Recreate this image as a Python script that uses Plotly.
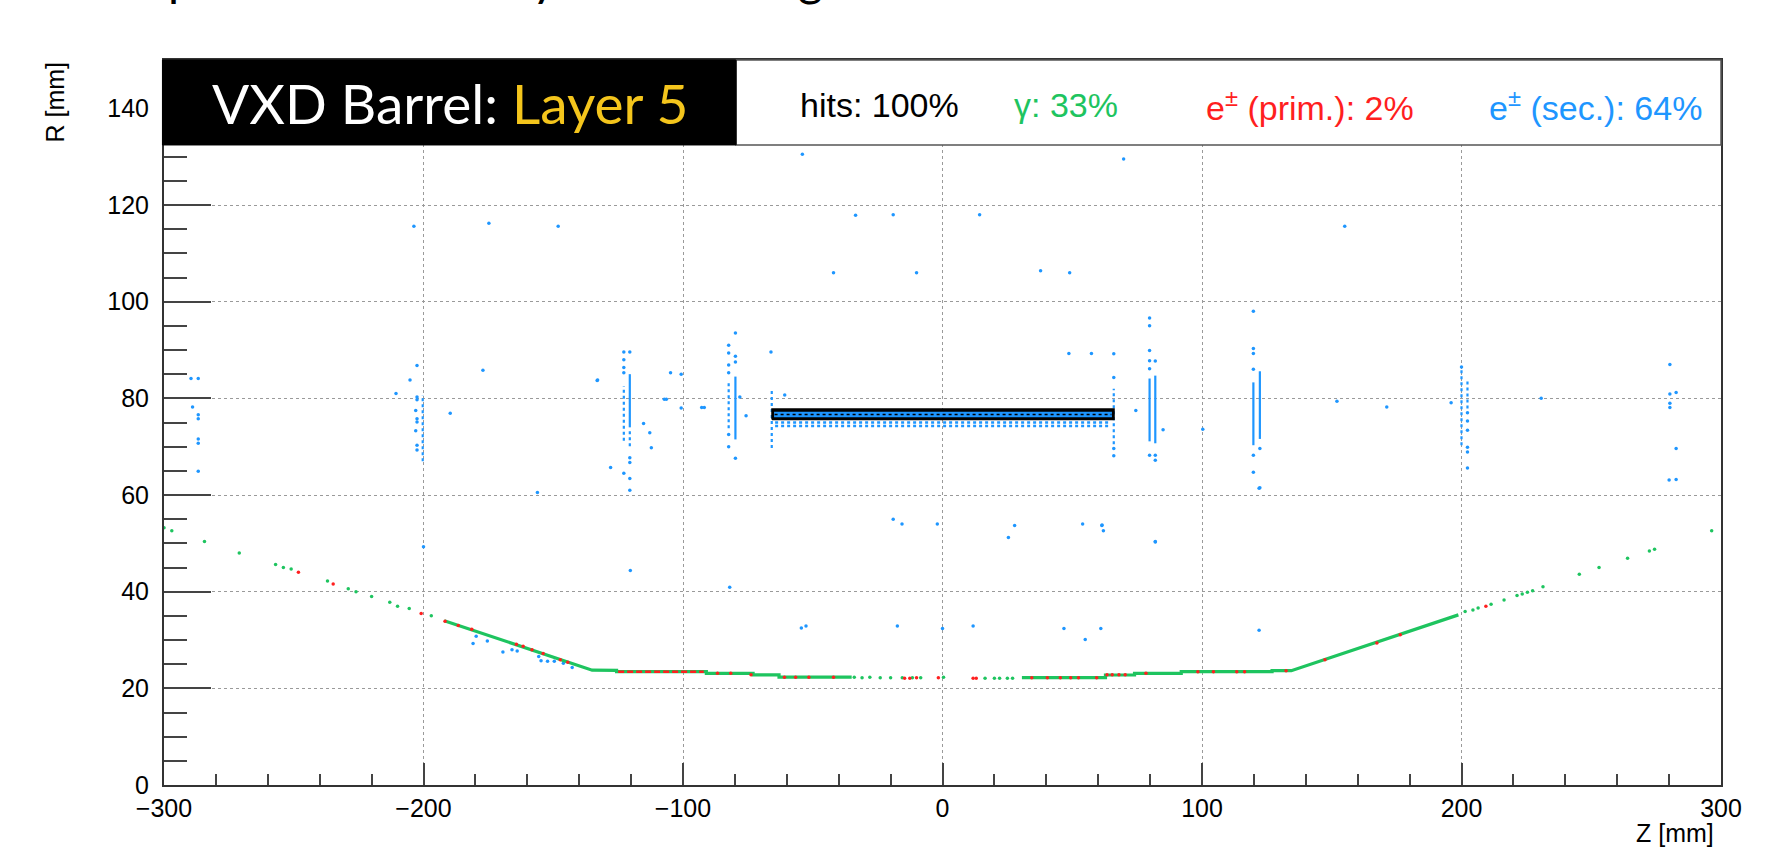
import plotly.graph_objects as go

# ---------------- data ----------------
# all-hits band on the layer-5 sensor (z extent, R extent)
sensor_z = [-65.7, 66.1]
sensor_r_outer = [75.6, 77.8]
sensor_r_inner = [76.1, 77.2]
sensor_low_rows = [75.0, 74.3]          # blue rows just under the sensor
sensor_low_z = [-64.5, 64.5]

# dense vertical streaks of secondary e± vertices: z, R_low, R_high
solid_streak_z = [-120.5, -79.8, 79.8, 82.0, 119.8, 122.3]
solid_streak_lo = [74.0, 71.5, 71.1, 70.7, 70.3, 71.6]
solid_streak_hi = [85.0, 84.5, 84.1, 84.7, 83.3, 85.6]
dotted_streak_z = [-200.3, -122.8, -120.5, -82.4, -65.8, 66.0, 200.0, 202.3]
dotted_streak_lo = [67.0, 71.2, 70.1, 73.8, 69.7, 70.5, 70.3, 77.9]
dotted_streak_hi = [80.7, 82.5, 73.2, 83.1, 81.7, 82.0, 86.0, 84.0]

# isolated secondary e± vertices
sec_z = [-289.6, -286.8, -289.0, -286.8, -286.8, -286.8, -286.8, -286.8,
         -202.5, -205.2, -210.6, -202.5, -202.5, -203.0, -202.5, -202.5, -203.0, -202.5, -202.5,
         -203.7, -174.8, -148.1, -177.1, -189.7, -156.1, -133.1, -127.9, -122.8,
         -122.8, -122.8, -122.8, -122.8, -120.5, -120.5, -120.5, -120.5, -120.5,
         -115.2, -112.8, -112.2, -107.2, -104.8, -100.7, -100.7, -92.8,
         -82.4, -82.4, -82.4, -82.4, -82.4, -82.4, -79.8, -79.8, -79.8, -79.8,
         -78.1, -75.7, -91.8, -106.4, -132.9, -66.1, -60.8,
         -179.7, -180.9, -175.4, -169.4, -165.9, -163.9, -155.6, -154.7, -152.2, -149.6, -146.1, -142.7,
         -200.0, -120.3, -82.0, -54.4,
         -54.0, -33.5, -19.0, 14.3, -42.0, -10.0, 37.8, 49.0, 57.4, 48.7,
         -19.0, -15.6, -2.0, 25.4, 27.8, 54.0, 61.4, 62.0, 82.0,
         -52.6, -17.4, 0.0, 11.8, 46.8, 55.0, 61.0, 122.0, 122.0, 280.0,
         66.0, 66.0, 66.0, 66.0, 79.8, 79.8, 79.8, 79.8, 79.8, 79.8, 82.0, 82.0, 82.0, 82.0,
         85.0, 74.5, 119.8, 119.8, 119.8, 119.8, 119.8, 119.8, 122.3, 122.3,
         200.0, 202.3, 202.3, 202.3, 202.3, 202.3, 202.3,
         280.3, 280.3, 280.3, 280.3, 282.7, 282.7, 282.7,
         69.8, 155.0, 152.0, 171.2, 196.0, 230.7, 100.3, 61.5]
sec_r = [84.1, 84.1, 78.2, 76.6, 75.8, 71.6, 70.7, 64.9,
         86.8, 83.8, 81.0, 80.3, 79.7, 77.5, 75.8, 75.1, 73.3, 70.3, 69.3,
         115.6, 116.2, 115.6, 85.8, 76.9, 60.5, 83.7, 65.7, 64.5,
         89.6, 88.0, 86.4, 85.3, 89.6, 67.7, 66.7, 63.4, 61.0,
         74.8, 72.9, 69.8, 79.8, 85.3, 85.0, 78.0, 78.1,
         91.0, 89.4, 86.9, 85.3, 72.5, 70.0, 93.5, 88.7, 87.5, 67.6,
         80.3, 76.4, 78.1, 79.8, 83.8, 89.6, 80.7,
         30.8, 29.3, 29.8, 27.5, 28.0, 27.7, 26.6, 25.7, 25.6, 25.6, 25.2, 24.3,
         49.3, 44.4, 40.9, 32.5,
         130.5, 117.9, 118.0, 118.0, 106.0, 106.0, 106.4, 106.0, 89.3, 89.3,
         55.0, 54.0, 54.0, 51.2, 53.7, 54.0, 53.7, 52.6, 50.3,
         32.9, 32.9, 32.4, 32.9, 32.4, 30.1, 32.4, 32.0, 61.4, 63.1,
         89.2, 84.3, 69.6, 68.1, 96.6, 95.0, 89.9, 87.8, 86.1, 68.2, 87.7, 68.2, 67.2, 50.4,
         73.5, 77.5, 98.0, 90.3, 89.3, 86.0, 68.2, 64.7, 69.6, 61.5,
         86.5, 77.0, 75.3, 73.4, 69.9, 68.9, 65.6,
         87.0, 80.9, 79.0, 78.1, 81.2, 69.6, 63.2,
         129.5, 115.6, 79.4, 78.2, 79.1, 80.0, 73.6, 53.8]

# photon conversion vertices along the beam pipe (dense parts as a profile)
pipe_left_z = [-192.0, -135.0, -125.6, -125.6, -91.0, -91.0, -73.0, -73.0, -63.0, -63.0, -35.0]
pipe_left_r = [34.0, 23.75, 23.7, 23.45, 23.45, 23.1, 23.1, 22.8, 22.8, 22.3, 22.3]
pipe_right_z = [30.6, 62.8, 62.8, 74.0, 74.0, 92.0, 92.0, 127.0, 127.0, 134.4, 198.8]
pipe_right_r = [22.2, 22.2, 22.76, 22.76, 23.1, 23.1, 23.45, 23.45, 23.65, 23.65, 35.2]
gamma_z = [-300.0, -297.0, -284.4, -271.0, -257.0, -254.0, -251.0, -237.0, -229.0, -226.0,
           -220.0, -213.0, -210.0, -205.5, -197.0,
           -34.0, -31.0, -28.0, -24.0, -20.0, -15.5, -11.6, -8.4, 0.4,
           16.4, 20.0, 22.0, 25.0, 27.0,
           201.4, 204.4, 206.4, 211.4, 216.4, 221.4, 223.4, 225.4, 227.4, 231.4,
           245.4, 253.0, 264.0, 272.4, 274.4, 296.4]
gamma_r = [53.2, 52.6, 50.4, 48.0, 45.6, 45.0, 44.7, 42.2, 40.6, 40.0,
           39.0, 37.8, 37.0, 36.5, 35.0,
           22.3, 22.2, 22.3, 22.2, 22.2, 22.2, 22.2, 22.2, 22.3,
           22.1, 22.1, 22.1, 22.1, 22.1,
           35.9, 36.2, 36.6, 37.4, 38.3, 39.2, 39.5, 39.9, 40.2, 41.0,
           43.6, 45.0, 46.9, 48.4, 48.8, 52.6]

# primary e± vertices
prim_seg_z = [-125.0, -92.0]
prim_seg_r = [23.45, 23.45]
prim_z = [-248.2, -234.8, -200.9, -191.7, -186.6, -181.4, -164.2, -161.6, -158.2, -153.9, -147.3, -144.4,
          -86.7, -81.6, -73.8, -60.9, -56.6, -51.5, -42.0,
          -14.6, -12.6, -10.0, -1.6, 11.8, 13.0, 34.4, 40.4, 45.4, 49.4, 52.4, 59.4,
          63.4, 65.4, 68.0, 70.4, 78.4, 98.4, 104.4, 113.4, 116.4, 132.4, 147.4, 167.4, 176.4, 209.4]
prim_r = [44.0, 41.6, 35.5, 33.9, 33.0, 32.2, 29.1, 28.7, 28.0, 27.2, 25.9, 25.4,
          23.1, 23.1, 22.8, 22.3, 22.3, 22.3, 22.3,
          22.1, 22.1, 22.2, 22.2, 22.1, 22.1, 22.2, 22.2, 22.2, 22.2, 22.2, 22.2,
          22.8, 22.8, 22.8, 22.8, 23.1, 23.45, 23.45, 23.45, 23.45, 23.65, 25.9, 29.4, 31.1, 37.0]

# header texts
header_title = "VXD Barrel: "
header_layer = "Layer 5"
legend_texts = ["hits: 100%", "γ: 33%", "e<sup>±</sup> (prim.): 2%", "e<sup>±</sup> (sec.): 64%"]

# ---------------- styling ----------------
BLUE = "#1e96ff"
GREEN = "#1ec45f"
RED = "#ff1f1f"
YELLOW = "#f4c51c"
FONT = "Liberation Sans"

fig = go.Figure()


def rect(z, r):
    return [z[0], z[1], z[1], z[0], z[0]], [r[0], r[0], r[1], r[1], r[0]]


def segments(zs, los, his):
    xs, ys = [], []
    for z, lo, hi in zip(zs, los, his):
        xs += [z, z, None]
        ys += [lo, hi, None]
    return xs, ys


# vertical streaks
xs, ys = segments(dotted_streak_z, dotted_streak_lo, dotted_streak_hi)
fig.add_trace(go.Scatter(x=xs, y=ys, mode="lines",
                         line=dict(color=BLUE, width=2.2, dash="dot"), hoverinfo="skip"))
xs, ys = segments(solid_streak_z, solid_streak_lo, solid_streak_hi)
fig.add_trace(go.Scatter(x=xs, y=ys, mode="lines",
                         line=dict(color=BLUE, width=2.2), hoverinfo="skip"))

# rows below the sensor
for r in sensor_low_rows:
    fig.add_trace(go.Scatter(x=sensor_low_z, y=[r, r], mode="lines",
                             line=dict(color=BLUE, width=2.5, dash="dot"), hoverinfo="skip"))

# sensor band: black hits with blue vertices on top
xr, yr = rect(sensor_z, sensor_r_outer)
fig.add_trace(go.Scatter(x=xr, y=yr, mode="lines", fill="toself", fillcolor="black",
                         line=dict(color="black", width=1.5), hoverinfo="skip"))
xr, yr = rect([sensor_z[0] + 0.8, sensor_z[1] - 0.8], sensor_r_inner)
fig.add_trace(go.Scatter(x=xr, y=yr, mode="lines", fill="toself", fillcolor=BLUE,
                         line=dict(color=BLUE, width=0), hoverinfo="skip"))
mid = sum(sensor_r_inner) / 2
fig.add_trace(go.Scatter(x=[sensor_z[0] + 1, sensor_z[1] - 1], y=[mid, mid], mode="lines",
                         line=dict(color="black", width=1.5, dash="dot"), hoverinfo="skip"))

# isolated secondaries
fig.add_trace(go.Scatter(x=sec_z, y=sec_r, mode="markers",
                         marker=dict(color=BLUE, size=3.5, line=dict(width=0)), hoverinfo="skip"))

# beam pipe (photon conversions)
for zz, rr in [(pipe_left_z, pipe_left_r), (pipe_right_z, pipe_right_r)]:
    fig.add_trace(go.Scatter(x=zz, y=rr, mode="lines",
                             line=dict(color=GREEN, width=3.2), hoverinfo="skip"))
fig.add_trace(go.Scatter(x=gamma_z, y=gamma_r, mode="markers",
                         marker=dict(color=GREEN, size=3.5, line=dict(width=0)), hoverinfo="skip"))

# primaries
fig.add_trace(go.Scatter(x=prim_seg_z, y=prim_seg_r, mode="lines",
                         line=dict(color=RED, width=2.5, dash="6px,3px"), hoverinfo="skip"))
fig.add_trace(go.Scatter(x=prim_z, y=prim_r, mode="markers",
                         marker=dict(color=RED, size=3.5, line=dict(width=0)), hoverinfo="skip"))

# ---------------- layout ----------------
axis_common = dict(
    showline=True, linecolor="#333", linewidth=2, mirror=True,
    showgrid=True, gridcolor="#9a9a9a", gridwidth=1, griddash="dot",
    zeroline=False, ticks="inside", tickcolor="#444", tickwidth=2,
    tickfont=dict(family=FONT, size=25, color="black"),
)
fig.update_layout(
    width=1776, height=850,
    margin=dict(l=164, r=55, t=60, b=65),
    paper_bgcolor="white", plot_bgcolor="white",
    showlegend=False,
    xaxis=dict(range=[-300, 300], tick0=0, dtick=100, ticklen=22,
               ticklabelstandoff=0,
               minor=dict(dtick=20, ticklen=11, tickwidth=1.5, tickcolor="#444",
                          ticks="inside", showgrid=False),
               **axis_common),
    yaxis=dict(range=[0, 150], tick0=0, dtick=20, ticklen=47,
               ticklabelstandoff=8,
               minor=dict(dtick=5, ticklen=23, tickwidth=2, tickcolor="#444",
                          ticks="inside", showgrid=False),
               **axis_common),
)

# header boxes
fig.add_shape(type="rect", xref="paper", yref="paper", x0=0.3674, x1=1.0, y0=0.8828, y1=1.0,
              fillcolor="white", line=dict(color="#555", width=1.5), layer="above")
fig.add_shape(type="rect", xref="paper", yref="paper", x0=-0.001, x1=0.3674, y0=0.8828, y1=1.0,
              fillcolor="black", line=dict(color="black", width=1), layer="above")

fig.add_annotation(xref="paper", yref="paper", x=0.1837, y=0.941, xanchor="center", yanchor="middle",
                   text=header_title + f"<span style='color:{YELLOW}'>{header_layer}</span>",
                   showarrow=False, font=dict(family="Lato", size=55, color="white"))

legend_x_px = [798, 1011.5, 1204, 1487]
legend_colors = ["black", GREEN, RED, BLUE]
for t, px, c in zip(legend_texts, legend_x_px, legend_colors):
    fig.add_annotation(xref="paper", yref="paper", x=(px - 164) / 1557, y=0.9379,
                       xanchor="left", yanchor="middle", text=t, showarrow=False,
                       font=dict(family=FONT, size=34, color=c))

# axis titles (ROOT style, at the axis ends)
fig.add_annotation(xref="paper", yref="paper", x=(54 - 164) / 1557, y=1.0,
                   xanchor="center", yanchor="top", text="R [mm]", textangle=-90,
                   showarrow=False, font=dict(family=FONT, size=25, color="black"))
fig.add_annotation(xref="paper", yref="paper", x=(1716 - 164) / 1557, y=-(833 - 785) / 725,
                   xanchor="right", yanchor="middle", text="Z [mm]",
                   showarrow=False, font=dict(family=FONT, size=25, color="black"))

# slide title cut off by the top edge (only descenders visible)
for ch, px in [("p", 181), ("y", 544), ("g", 810)]:
    fig.add_annotation(xref="paper", yref="paper", x=(px - 164) / 1557, y=1 + (60 - 8) / 725,
                       xanchor="center", yanchor="bottom", text=ch, showarrow=False,
                       font=dict(family="Lato", size=48, color="black"))

fig.write_html("out.html")
